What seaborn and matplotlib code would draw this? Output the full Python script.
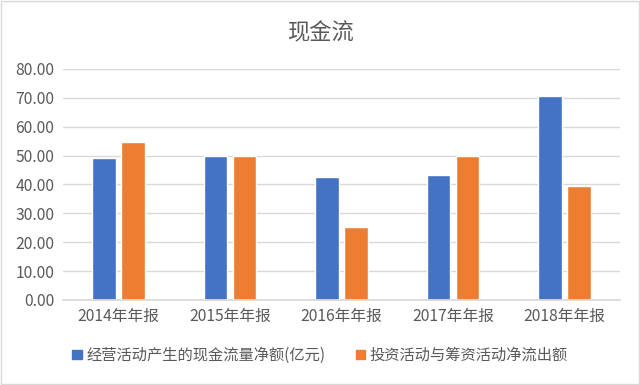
import pandas as pd
import matplotlib.pyplot as plt
import seaborn as sns
from matplotlib.patches import Patch, Rectangle

years = ["2014年年报", "2015年年报", "2016年年报", "2017年年报", "2018年年报"]
series_names = ["经营活动产生的现金流量净额(亿元)", "投资活动与筹资活动净流出额"]
operating = [49.1, 50.0, 42.5, 43.1, 70.6]
invest_finance = [54.8, 50.0, 25.4, 50.0, 39.6]
colors = ["#4472C4", "#ED7D31"]

df = pd.DataFrame({
    "year": years * 2,
    "series": [series_names[0]] * len(years) + [series_names[1]] * len(years),
    "value": operating + invest_finance,
})

sns.set_theme(style="white")
plt.rcParams["font.family"] = ["Noto Sans CJK SC", "DejaVu Sans"]

fig = plt.figure(figsize=(6.4, 3.85), dpi=100)
ax = fig.add_axes([0.098, 0.221, 0.871, 0.6])

sns.barplot(data=df, x="year", y="value", hue="series", palette=colors,
            saturation=1, width=0.52, gap=0.2, ax=ax, legend=False)

ax.set_ylim(0, 80)
ax.set_yticks(range(0, 81, 10))
ax.set_yticklabels([f"{v:.2f}" for v in range(0, 81, 10)])
ax.yaxis.grid(True, color="#D9D9D9", linewidth=1)
ax.set_axisbelow(True)
ax.set_xlabel("")
ax.set_ylabel("")
for s in ["top", "right", "left"]:
    ax.spines[s].set_visible(False)
ax.spines["bottom"].set_color("#D9D9D9")
ax.tick_params(axis="both", length=0, labelsize=11.3, colors="#595959", pad=6)

fig.text(0.5, 0.915, "现金流", ha="center", va="center", fontsize=16, color="#595959")

handles = [Patch(color=c, label=n) for c, n in zip(colors, series_names)]
fig.legend(handles=handles, loc="center", bbox_to_anchor=(0.5, 0.077), ncol=2,
           frameon=False, fontsize=11, handlelength=0.6, handleheight=0.6,
           handletextpad=0.3, columnspacing=2.0, labelcolor="#595959")

fig.patches.append(Rectangle((0.002, 0.003), 0.996, 0.994, transform=fig.transFigure,
                             fill=False, edgecolor="#D9D9D9", linewidth=1))

fig.savefig("out.png", dpi=100)
